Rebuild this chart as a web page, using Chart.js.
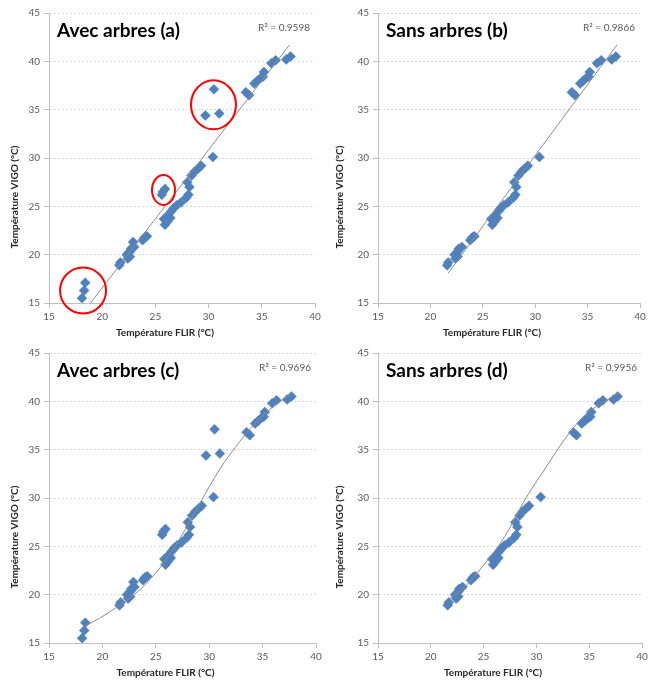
<!DOCTYPE html>
<html>
<head>
<meta charset="utf-8">
<script src="https://cdn.jsdelivr.net/npm/chart.js@4.4.1/dist/chart.umd.min.js"></script>
<style>
    body { margin: 0; background: #fff; }
    #wrap { position: relative; width: 651px; height: 682px; }
    .panel { position: absolute; }
</style>
</head>
<body>
<div id="wrap">
    <div class="panel" style="left:0;top:0"><canvas id="chartA" width="325" height="340"></canvas></div>
    <div class="panel" style="left:325px;top:0"><canvas id="chartB" width="326" height="340"></canvas></div>
    <div class="panel" style="left:0;top:340px"><canvas id="chartC" width="325" height="342"></canvas></div>
    <div class="panel" style="left:325px;top:340px"><canvas id="chartD" width="326" height="342"></canvas></div>
</div>
<script>
// ============================================================
// DATA
// ============================================================
// points kept in all four panels
const flir = [21.6, 21.7, 22.3, 22.4, 22.6, 22.6, 22.7, 23.0, 23.8, 24.0, 24.2,
    25.8, 25.9, 26.1, 26.2, 26.4, 26.5, 26.7, 27.0, 27.4,
    27.9, 28.1, 28.2, 28.0, 28.4, 28.7, 29.0, 29.3, 30.4,
    33.5, 33.8, 34.3, 34.6, 34.9, 35.2, 35.1, 35.9, 36.3, 37.3, 37.7];
const vigo = [18.9, 19.2, 20.0, 19.6, 19.8, 20.3, 20.6, 20.8, 21.5, 21.8, 21.9,
    23.7, 23.1, 23.4, 24.1, 23.8, 24.5, 24.8, 25.1, 25.4,
    25.9, 26.2, 27.0, 27.5, 28.2, 28.6, 28.9, 29.2, 30.1,
    36.8, 36.5, 37.7, 38.0, 38.3, 38.9, 38.4, 39.8, 40.1, 40.2, 40.5];

// points only present "avec arbres"
const flirTrees = [18.1, 18.3, 18.4, 22.9, 25.6, 25.7, 25.9, 29.7, 30.5, 31.0];
const vigoTrees = [15.5, 16.3, 17.1, 21.3, 26.2, 26.5, 26.8, 34.4, 37.1, 34.6];

// trend lines
const trendAx = [18.9, 37.6];
const trendAy = [15.0, 41.7];
const trendBx = [21.7, 37.8];
const trendBy = [18.1, 41.7];
const trendCx = [18.3, 19.8, 21.6, 23.5, 25.4, 27.3, 29.1, 31.0, 32.9, 34.8, 36.3, 37.7];
const trendCy = [16.7, 17.6, 18.9, 20.5, 22.8, 25.9, 29.4, 33.0, 35.9, 38.3, 39.7, 40.8];
const trendDx = [21.8, 23.2, 25.1, 27.0, 28.9, 30.8, 32.7, 34.6, 36.2, 37.8];
const trendDy = [19.6, 20.8, 23.2, 26.0, 29.8, 33.0, 36.1, 38.6, 39.8, 40.9];

const yTicks = [15, 20, 25, 30, 35, 40, 45];
const xTicks = [15, 20, 25, 30, 35, 40];

// red circles on panel (a): centre in data units, radius in px
const circlesA = [
    { x: 18.2, y: 16.3, rx: 23, ry: 23 },
    { x: 25.76, y: 26.7, rx: 11.5, ry: 15 },
    { x: 30.46, y: 35.5, rx: 22.5, ry: 24.5 }
];

// ============================================================
// HELPERS
// ============================================================
const FONT = 'Lato, "Open Sans", sans-serif';
const BLUE = '#4f81bd';

function toPoints(xs, ys) {
    return xs.map(function (x, i) { return { x: x, y: ys[i] }; });
}

// titles, R², axis titles, circles
const panelText = {
    id: 'panelText',
    afterDraw: function (chart) {
        const o = chart.options.plugins.panelText;
        const ctx = chart.ctx;
        const a = chart.chartArea;
        ctx.save();

        ctx.fillStyle = '#000';
        ctx.font = 'bold 19px ' + FONT;
        ctx.textBaseline = 'alphabetic';
        ctx.textAlign = 'left';
        ctx.fillText(o.title, a.left + 8, 37);

        ctx.fillStyle = '#595959';
        ctx.font = '10px ' + FONT;
        ctx.textAlign = 'right';
        ctx.textBaseline = 'middle';
        ctx.fillText(o.r2, a.right - 5, 28);

        ctx.fillStyle = '#262626';
        ctx.font = 'bold 10px ' + FONT;
        ctx.textAlign = 'center';
        ctx.fillText('Température FLIR (°C)', (a.left + a.right) / 2 - 17, 333);

        ctx.save();
        ctx.translate(15, 197);
        ctx.rotate(-Math.PI / 2);
        ctx.fillText('Température VIGO (°C)', 0, 0);
        ctx.restore();

        if (o.circles) {
            const xs = chart.scales.x, ys = chart.scales.y;
            ctx.strokeStyle = '#ff0000';
            ctx.lineWidth = 2;
            o.circles.forEach(function (c) {
                ctx.beginPath();
                ctx.ellipse(xs.getPixelForValue(c.x), ys.getPixelForValue(c.y), c.rx, c.ry, 0, 0, Math.PI * 2);
                ctx.stroke();
            });
        }
        ctx.restore();
    }
};

function makePanel(canvasId, cfg) {
    const datasets = [
        {
            label: 'trend',
            data: toPoints(cfg.tx, cfg.ty),
            showLine: true,
            borderColor: '#8c8c8c',
            borderWidth: 1,
            pointRadius: 0,
            tension: cfg.curved ? 0.4 : 0,
            cubicInterpolationMode: cfg.curved ? 'monotone' : 'default',
            order: 0
        },
        {
            label: 'mesures',
            data: toPoints(flir, vigo).concat(cfg.trees ? toPoints(flirTrees, vigoTrees) : []),
            pointStyle: 'rectRot',
            pointRadius: 5,
            pointBackgroundColor: BLUE,
            pointBorderColor: BLUE,
            pointBorderWidth: 0.5,
            order: 1
        }
    ];

    return new Chart(document.getElementById(canvasId), {
        type: 'scatter',
        data: { datasets: datasets },
        options: {
            responsive: false,
            animation: false,
            layout: { padding: { top: 13, right: cfg.right, bottom: 0, left: 0 } },
            plugins: {
                legend: { display: false },
                tooltip: { enabled: false },
                panelText: { title: cfg.title, r2: cfg.r2, circles: cfg.circles }
            },
            scales: {
                x: {
                    type: 'linear',
                    min: 15, max: 40,
                    afterBuildTicks: function (s) { s.ticks = xTicks.map(function (v) { return { value: v }; }); },
                    afterFit: function (s) { s.height = cfg.bottomH; },
                    grid: { drawOnChartArea: false, drawTicks: true, tickLength: 5, tickColor: '#bfbfbf' },
                    border: { color: '#bfbfbf', width: 1 },
                    ticks: { color: '#595959', font: { size: 10, family: FONT }, padding: 3, maxRotation: 0 }
                },
                y: {
                    type: 'linear',
                    min: 15, max: 45,
                    afterBuildTicks: function (s) { s.ticks = yTicks.map(function (v) { return { value: v }; }); },
                    afterFit: function (s) { s.width = cfg.left; },
                    grid: { color: '#d9d9d9', tickLength: 5, tickColor: '#bfbfbf', tickBorderDash: [] },
                    border: { color: '#bfbfbf', width: 1, dash: [2, 2] },
                    ticks: { color: '#595959', font: { size: 10, family: FONT }, padding: 4 }
                }
            }
        },
        plugins: [panelText]
    });
}

document.addEventListener('DOMContentLoaded', function () {
    makePanel('chartA', { title: 'Avec arbres (a)', r2: 'R² = 0.9598', trees: true, tx: trendAx, ty: trendAy,
        circles: circlesA, left: 49, right: 10, bottomH: 37 });
    makePanel('chartB', { title: 'Sans arbres (b)', r2: 'R² = 0.9866', trees: false, tx: trendBx, ty: trendBy,
        left: 53, right: 11, bottomH: 37 });
    makePanel('chartC', { title: 'Avec arbres (c)', r2: 'R² = 0.9696', trees: true, tx: trendCx, ty: trendCy,
        curved: true, left: 49, right: 9, bottomH: 39 });
    makePanel('chartD', { title: 'Sans arbres (d)', r2: 'R² = 0.9956', trees: false, tx: trendDx, ty: trendDy,
        curved: true, left: 53, right: 9, bottomH: 39 });
});
</script>
</body>
</html>
